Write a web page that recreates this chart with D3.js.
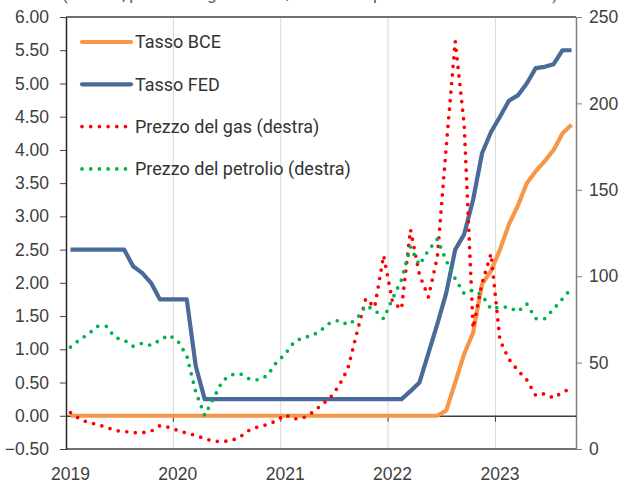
<!DOCTYPE html>
<html>
<head>
<meta charset="utf-8">
<script src="https://cdn.jsdelivr.net/npm/d3@7"></script>
<style>
    body { margin: 0; background: #fff; }
    svg { display: block; font-family: Roboto, "Noto Sans", sans-serif; }
    .tick text { fill: #404040; font-size: 17.5px; }
    .legend text { fill: #333; font-size: 18px; }
</style>
</head>
<body>
<svg id="chart" width="624" height="488"></svg>
<script>
// Monthly data, Jan 2019 - Sep 2023
let years = ["2019", "2020", "2021", "2022", "2023"];
let months = [];
for (let y of years) {
    for (let m = 1; m <= 12; m++) {
        if (y === "2023" && m > 9) break;
        months.push(y + "-" + String(m).padStart(2, "0"));
    }
}

// left axis (%)
let tassoBCE = [
    0, 0, 0, 0, 0, 0, 0, 0, 0, 0, 0, 0,
    0, 0, 0, 0, 0, 0, 0, 0, 0, 0, 0, 0,
    0, 0, 0, 0, 0, 0, 0, 0, 0, 0, 0, 0,
    0, 0, 0, 0, 0, 0, 0.08, 0.5, 0.93, 1.25, 1.98, 2.18,
    2.5, 2.88, 3.16, 3.5, 3.68, 3.83, 4.0, 4.25, 4.38
];
let tassoFED = [
    2.5, 2.5, 2.5, 2.5, 2.5, 2.5, 2.5, 2.25, 2.15, 2.0, 1.75, 1.75,
    1.75, 1.75, 0.75, 0.25, 0.25, 0.25, 0.25, 0.25, 0.25, 0.25, 0.25, 0.25,
    0.25, 0.25, 0.25, 0.25, 0.25, 0.25, 0.25, 0.25, 0.25, 0.25, 0.25, 0.25,
    0.25, 0.25, 0.37, 0.5, 0.94, 1.38, 1.85, 2.5, 2.73, 3.25, 3.95, 4.27,
    4.5, 4.74, 4.82, 5.0, 5.23, 5.25, 5.29, 5.5, 5.5
];
// right axis
let prezzoGas = [
    21, 17.5, 15.3, 14.3, 12.6, 10.7, 10.2, 9.5, 9.4, 10.3, 13.5, 12.6,
    10.7, 9.2, 7.9, 6.0, 4.5, 4.4, 4.8, 7.2, 11, 12.9, 14.2, 16.3,
    19.8, 17.4, 18, 21, 25.3, 29.5, 36.5, 46.5, 67, 87, 82, 112,
    85, 81, 127, 101, 88, 111, 175, 236, 188, 70, 96, 113,
    63, 52, 45.5, 40, 31, 32, 29.5, 33, 35
];
let prezzoPetrolio = [
    59, 63.2, 66.5, 71, 71, 64.5, 63, 59.5, 61.2, 60, 63, 66,
    62.5, 54, 33, 19.5, 29.5, 39.5, 43, 43.5, 40.5, 40, 42.5, 50,
    55, 62, 64.5, 65.5, 68.8, 73, 74.5, 71.9, 75.3, 82.9, 80.5, 75.4,
    87, 98, 117, 106.5, 115, 121.4, 109, 98.5, 90, 92, 89, 81,
    82.3, 82, 79.5, 84, 75.5, 75.5, 81, 87, 93
];

let leftTicks = [-0.5, 0, 0.5, 1, 1.5, 2, 2.5, 3, 3.5, 4, 4.5, 5, 5.5, 6];
let rightTicks = [0, 50, 100, 150, 200, 250];
let legendNames = ["Tasso BCE", "Tasso FED", "Prezzo del gas (destra)", "Prezzo del petrolio (destra)"];
let colors = ["#F79646", "#4A6A98", "#FF0000", "#00B050"];

let svg = d3.select("#chart");
let plotL = 66, plotR = 576, plotT = 17, plotB = 449;

// scales
let x = d3.scaleBand().domain(months).range([plotL, plotR]);
let xc = d => x(d) + x.bandwidth() / 2;
let yL = d3.scaleLinear().domain([-0.5, 6]).range([plotB, plotT]);
let yR = d3.scaleLinear().domain([0, 250]).range([plotB, plotT]);
let yearStarts = years.map(y => y + "-01");

// subtitle, mostly above the visible area (only its lower edge shows)
svg.append("text")
    .attr("x", 62).attr("y", -0.5)
    .attr("fill", "#595959")
    .attr("textLength", 496).attr("lengthAdjust", "spacing")
    .style("font-size", "17px")
    .text("(valori %, prezzo del gas in euro/MWh e del petrolio in dollari al barile)");

// vertical gridlines at year boundaries
svg.append("g")
    .selectAll("line")
    .data(yearStarts.slice(1))
    .join("line")
    .attr("x1", d => x(d)).attr("x2", d => x(d))
    .attr("y1", plotT).attr("y2", plotB)
    .attr("stroke", "#D9D9D9").attr("stroke-width", 1);

// plot border top / bottom
svg.append("line").attr("x1", plotL).attr("x2", plotR).attr("y1", plotT).attr("y2", plotT)
    .attr("stroke", "#404040").attr("stroke-width", 1.3);
svg.append("line").attr("x1", plotL).attr("x2", plotR).attr("y1", plotB).attr("y2", plotB)
    .attr("stroke", "#404040").attr("stroke-width", 1.3);

// left axis
let axL = svg.append("g")
    .attr("transform", `translate(${plotL},0)`)
    .call(d3.axisLeft(yL).tickValues(leftTicks).tickFormat(d3.format(".2f")).tickSizeInner(6).tickSizeOuter(0).tickPadding(11));
axL.select(".domain").attr("stroke", "#262626").attr("stroke-width", 1.5);
axL.selectAll(".tick line").attr("stroke", "#404040");

// right axis
let axR = svg.append("g")
    .attr("transform", `translate(${plotR},0)`)
    .call(d3.axisRight(yR).tickValues(rightTicks).tickSizeInner(6).tickSizeOuter(0).tickPadding(7));
axR.select(".domain").attr("stroke", "#7F7F7F").attr("stroke-width", 1.5);
axR.selectAll(".tick line").attr("stroke", "#7F7F7F");

// x axis line at zero with ticks at year boundaries
let axX = svg.append("g")
    .attr("transform", `translate(0,${yL(0)})`)
    .call(d3.axisBottom(x).tickValues(yearStarts.slice(1)).tickFormat("").tickSizeInner(6).tickSizeOuter(0));
axX.selectAll(".tick line").attr("transform", `translate(${-x.bandwidth() / 2},0)`).attr("stroke", "#404040");
axX.select(".domain").attr("stroke", "#404040").attr("stroke-width", 1.3);

// year labels below the plot
let axLab = svg.append("g")
    .attr("transform", `translate(0,${plotB})`)
    .call(d3.axisBottom(x).tickValues(yearStarts).tickFormat(d => d.slice(0, 4)).tickSize(0).tickPadding(19));
axLab.select(".domain").remove();

// lines
let lineL = d3.line().x((d, i) => xc(months[i])).y(d => yL(d));
let lineR = d3.line().x((d, i) => xc(months[i])).y(d => yR(d));

svg.append("path").datum(tassoBCE)
    .attr("d", lineL).attr("fill", "none")
    .attr("stroke", colors[0]).attr("stroke-width", 4.2).attr("stroke-linejoin", "round");
svg.append("path").datum(tassoFED)
    .attr("d", lineL).attr("fill", "none")
    .attr("stroke", colors[1]).attr("stroke-width", 4.2).attr("stroke-linejoin", "round");
svg.append("path").datum(prezzoGas)
    .attr("d", lineR).attr("fill", "none")
    .attr("stroke", colors[2]).attr("stroke-width", 3.7)
    .attr("stroke-linecap", "round").attr("stroke-dasharray", "0 8.6");
svg.append("path").datum(prezzoPetrolio)
    .attr("d", lineR).attr("fill", "none")
    .attr("stroke", colors[3]).attr("stroke-width", 3.7)
    .attr("stroke-linecap", "round").attr("stroke-dasharray", "0 8.6");

// legend
let legend = svg.append("g").attr("class", "legend")
    .selectAll("g")
    .data(legendNames)
    .join("g")
    .attr("transform", (d, i) => `translate(82,${42 + i * 42.3})`);
legend.append("line")
    .attr("x1", 0).attr("x2", (d, i) => i < 2 ? 49 : 44)
    .attr("stroke", (d, i) => colors[i])
    .attr("stroke-width", (d, i) => i < 2 ? 4.2 : 3.7)
    .attr("stroke-linecap", "round")
    .attr("stroke-dasharray", (d, i) => i < 2 ? null : "0 8.7");
legend.append("text")
    .attr("x", 53).attr("dy", "0.35em")
    .text(d => d);
</script>
</body>
</html>
